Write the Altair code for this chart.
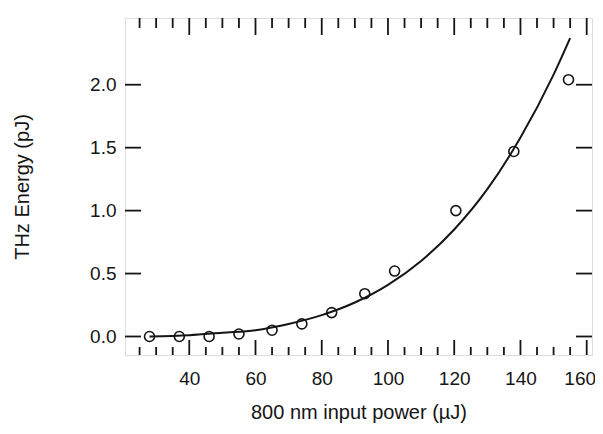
import altair as alt
import pandas as pd

# Measured data points (open circles)
power_uJ = [28, 37, 46, 55, 65, 74, 83, 93, 102, 120.5, 138, 154.5]
thz_pJ = [0.0, 0.0, 0.0, 0.02, 0.05, 0.10, 0.19, 0.34, 0.52, 1.00, 1.47, 2.04]

# Fit curve
fit_x = [28, 40, 50, 60, 70, 80, 90, 100, 110, 120, 130, 140, 150, 155]
fit_y = [0.0, 0.01, 0.03, 0.05, 0.10, 0.17, 0.27, 0.41, 0.60, 0.85, 1.17, 1.58, 2.08, 2.37]

# Tick values
x_major = [40, 60, 80, 100, 120, 140, 160]
x_minor = [25, 30, 35, 45, 50, 55, 65, 70, 75, 85, 90, 95, 105, 110, 115,
           125, 130, 135, 145, 150, 155]
y_major = [0.0, 0.5, 1.0, 1.5, 2.0]

W, H = 467, 337
INK = "#151515"
FONT = "Liberation Sans"

xs = alt.Scale(domain=[20.6, 161.6], nice=False, zero=False)
ys = alt.Scale(domain=[-0.147, 2.53], nice=False, zero=False)

pts = pd.DataFrame({"x": power_uJ, "y": thz_pJ})
fit = pd.DataFrame({"x": fit_x, "y": fit_y})
xmaj = pd.DataFrame({"v": x_major})
xmin = pd.DataFrame({"v": x_minor})
ymaj = pd.DataFrame({"v": y_major})

x_axis = alt.Axis(values=x_major, format="d", ticks=False, domain=False, grid=False,
                  labelFontSize=19, labelFont=FONT, labelColor=INK, labelPadding=14,
                  labelOffset={"condition": {"test": "datum.value === 160", "value": -7}, "value": 0},
                  title="800 nm input power (µJ)", titleFont=FONT, titleFontSize=20,
                  titleFontWeight="normal", titleColor=INK, titlePadding=14)
y_axis = alt.Axis(values=y_major, format=".1f", ticks=False, domain=False, grid=False,
                  labelFontSize=19, labelFont=FONT, labelColor=INK, labelPadding=9,
                  title="THz Energy (pJ)", titleFont=FONT, titleFontSize=20,
                  titleFontWeight="normal", titleColor=INK, titlePadding=57)

line = alt.Chart(fit).mark_line(color=INK, strokeWidth=2, interpolate="monotone").encode(
    x=alt.X("x:Q", scale=xs, axis=x_axis),
    y=alt.Y("y:Q", scale=ys, axis=y_axis),
)
circles = alt.Chart(pts).mark_point(shape="circle", filled=False, color=INK,
                                    size=100, strokeWidth=1.6, opacity=1).encode(
    x=alt.X("x:Q", scale=xs), y=alt.Y("y:Q", scale=ys))

MAJ, MIN = 15, 8
bot_maj = alt.Chart(xmaj).mark_rule(color=INK, strokeWidth=1.8).encode(
    x=alt.X("v:Q", scale=xs), y=alt.value(H), y2=alt.value(H - MAJ))
bot_min = alt.Chart(xmin).mark_rule(color=INK, strokeWidth=1.8).encode(
    x=alt.X("v:Q", scale=xs), y=alt.value(H), y2=alt.value(H - MIN))
top_maj = alt.Chart(xmaj).mark_rule(color=INK, strokeWidth=1.8).encode(
    x=alt.X("v:Q", scale=xs), y=alt.value(0), y2=alt.value(MAJ + 2))
top_min = alt.Chart(xmin).mark_rule(color=INK, strokeWidth=1.8).encode(
    x=alt.X("v:Q", scale=xs), y=alt.value(0), y2=alt.value(MIN + 2))
left_maj = alt.Chart(ymaj).mark_rule(color=INK, strokeWidth=1.8).encode(
    y=alt.Y("v:Q", scale=ys), x=alt.value(0), x2=alt.value(16))
right_maj = alt.Chart(ymaj).mark_rule(color=INK, strokeWidth=1.8).encode(
    y=alt.Y("v:Q", scale=ys), x=alt.value(W), x2=alt.value(W - 16))

chart = alt.layer(line, circles, bot_maj, bot_min, top_maj, top_min, left_maj, right_maj).properties(
    width=W, height=H,
    autosize=alt.AutoSizeParams(type="none"),
    padding={"left": 117, "top": 10, "right": 3, "bottom": 71},
).configure_view(stroke=INK, strokeWidth=2).configure(background="white")

chart.save("out.html", embed_options={"renderer": "svg", "actions": False})
